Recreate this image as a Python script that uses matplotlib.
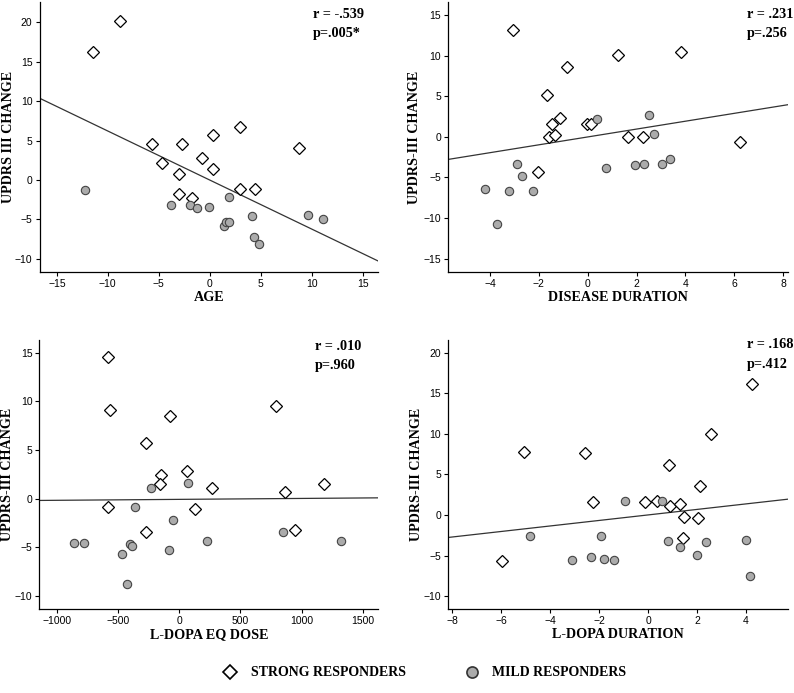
import numpy as np
import matplotlib
matplotlib.use('Agg')
import matplotlib.pyplot as plt
from matplotlib.lines import Line2D

# ---- data (strong = diamonds, mild = grey circles) ----
age_strong_x = [-8.8, -11.5, -5.7, -2.7, -4.7, -0.8, 0.3, 0.3, -3.0, -3.0, -1.7, 3.0, 3.0, 4.4, 8.8]
age_strong_y = [20.2, 16.2, 4.5, 4.5, 2.1, 2.8, 5.7, 1.4, 0.8, -1.8, -2.3, 6.7, -1.1, -1.1, 4.0]
age_mild_x = [-12.2, -3.8, -1.9, -1.3, -0.1, 1.9, 1.4, 1.6, 1.9, 4.1, 4.3, 4.8, 9.6, 11.1]
age_mild_y = [-1.3, -3.2, -3.2, -3.6, -3.4, -2.2, -5.8, -5.3, -5.3, -4.6, -7.2, -8.1, -4.5, -5.0]

dd_strong_x = [-3.05, 1.26, 3.83, -0.86, -1.68, -1.13, -1.46, -1.6, -1.35, -0.03, 0.15, 1.63, 2.28, -2.04, 6.23]
dd_strong_y = [13.2, 10.1, 10.4, 8.6, 5.1, 2.3, 1.6, 0.0, 0.25, 1.6, 1.6, 0.0, 0.0, -4.3, -0.7]
dd_mild_x = [-4.21, -3.73, -3.21, -2.9, -2.69, -2.25, 0.38, 0.75, 1.93, 2.3, 2.51, 2.7, 3.03, 3.36]
dd_mild_y = [-6.45, -10.7, -6.7, -3.4, -4.8, -6.7, 2.2, -3.8, -3.45, -3.4, 2.7, 0.4, -3.4, -2.7]

dose_strong_x = [-583, -564, -74, -270, 790, -147, -158, 65, 267, 1182, 861, -580, 131, -272, 945]
dose_strong_y = [14.6, 9.1, 8.5, 5.7, 9.5, 2.4, 1.5, 2.8, 1.1, 1.5, 0.7, -0.9, -1.1, -3.4, -3.2]
dose_mild_x = [-861, -779, -463, -403, -384, -422, -362, -229, -54, -79, 71, 231, 852, 1326]
dose_mild_y = [-4.55, -4.55, -5.7, -4.65, -4.9, -8.8, -0.9, 1.1, -2.15, -5.3, 1.6, -4.3, -3.4, -4.3]

ldd_strong_x = [4.23, 2.59, -5.09, -2.59, 0.87, 2.14, -2.24, -0.14, 0.37, 0.9, 1.31, 1.45, 2.06, 1.42, -5.99]
ldd_strong_y = [16.2, 9.95, 7.8, 7.7, 6.2, 3.6, 1.6, 1.6, 1.7, 1.1, 1.4, -0.3, -0.4, -2.8, -5.7]
ldd_mild_x = [-4.81, -3.1, -2.32, -1.91, -1.81, -1.38, -0.95, 0.56, 0.82, 1.3, 1.99, 2.36, 4.01, 4.16]
ldd_mild_y = [-2.55, -5.55, -5.15, -2.6, -5.45, -5.55, 1.7, 1.7, -3.15, -3.95, -4.9, -3.35, -3.05, -7.5]

x_labels = ['AGE', 'DISEASE DURATION', 'L-DOPA EQ DOSE', 'L-DOPA DURATION']
y_labels = ['UPDRS III CHANGE', 'UPDRS-III CHANGE', 'UPDRS-III CHANGE', 'UPDRS-III CHANGE']
r_text = ['r = -.539', 'r = .231', 'r = .010', 'r = .168']
p_text = ['p=.005*', 'p=.256', 'p=.960', 'p=.412']

W, H = 794, 693
serif = 'Liberation Serif'
sans = 'Liberation Sans'

fig = plt.figure(figsize=(W / 100, H / 100), dpi=100)

# axes boxes in pixels: left, top, right, bottom
boxes = [(39.5, 2, 378, 272), (448, 2, 788, 272), (39.3, 340, 378.3, 609.3), (448, 340, 788, 609.3)]
# where the axis titles sit (pixel x of y-label centre, pixel y of x-label centre)
ylab_x = [9, 415, 8, 416]
xlab_y = [298, 298, 635, 634]

panels = [
    (age_strong_x, age_strong_y, age_mild_x, age_mild_y,
     (-16.7, 16.5), (-11.7, 22.6), np.arange(-15, 16, 5), np.arange(-10, 21, 5)),
    (dd_strong_x, dd_strong_y, dd_mild_x, dd_mild_y,
     (-5.72, 8.2), (-16.65, 16.6), np.arange(-4, 9, 2), np.arange(-15, 16, 5)),
    (dose_strong_x, dose_strong_y, dose_mild_x, dose_mild_y,
     (-1142, 1627), (-11.36, 16.3), np.arange(-1000, 1501, 500), np.arange(-10, 16, 5)),
    (ldd_strong_x, ldd_strong_y, ldd_mild_x, ldd_mild_y,
     (-8.18, 5.72), (-11.64, 21.6), np.arange(-8, 5, 2), np.arange(-10, 21, 5)),
]

for i, (sx, sy, mx, my, xlim, ylim, xt, yt) in enumerate(panels):
    l, t, r, b = boxes[i]
    ax = fig.add_axes([l / W, 1 - b / H, (r - l) / W, (b - t) / H])

    # fit line over all subjects
    allx = np.array(sx + mx, dtype=float)
    ally = np.array(sy + my, dtype=float)
    slope, icpt = np.polyfit(allx, ally, 1)
    xs = np.array(xlim)
    ax.plot(xs, icpt + slope * xs, color='#333333', lw=0.9, zorder=1)

    ax.plot(sx, sy, linestyle='none', marker='D', markersize=6, markerfacecolor='white',
            markeredgecolor='black', markeredgewidth=0.9, zorder=3)
    ax.plot(mx, my, linestyle='none', marker='o', markersize=6, markerfacecolor='#ababab',
            markeredgecolor='#444444', markeredgewidth=0.8, zorder=3)

    ax.set_xlim(xlim)
    ax.set_ylim(ylim)
    ax.set_xticks(xt)
    ax.set_yticks(yt)
    ax.spines['top'].set_visible(False)
    ax.spines['right'].set_visible(False)
    for s in ['left', 'bottom']:
        ax.spines[s].set_linewidth(0.9)
    ax.tick_params(length=3, width=0.8, labelsize=7.5, pad=2)
    for lab in ax.get_xticklabels() + ax.get_yticklabels():
        lab.set_fontfamily(sans)
    ax.set_xlabel(x_labels[i], fontfamily=serif, fontweight='bold', fontsize=10.2, va='center')
    ax.set_ylabel(y_labels[i], fontfamily=serif, fontweight='bold', fontsize=10.2, va='center')
    ax.xaxis.set_label_coords(0.5, (b - xlab_y[i]) / (b - t))
    ax.yaxis.set_label_coords((ylab_x[i] - l) / (r - l), 0.5)

# correlation annotations (pixel positions of the text starts)
ann_pos = [(313, 15), (747, 15), (315, 346), (747, 345)]
for (x, y), rt, pt in zip(ann_pos, r_text, p_text):
    fig.text(x / W, 1 - y / H, rt, fontfamily=serif, fontweight='bold', fontsize=10.3,
             ha='left', va='center')
    fig.text(x / W, 1 - (y + 19) / H, pt, fontfamily=serif, fontweight='bold', fontsize=10.3,
             ha='left', va='center')

handles = [
    Line2D([], [], linestyle='none', marker='D', markersize=7, markerfacecolor='white',
           markeredgecolor='black', markeredgewidth=1.2),
    Line2D([], [], linestyle='none', marker='o', markersize=8, markerfacecolor='#ababab',
           markeredgecolor='#333333', markeredgewidth=1.2),
]
fig.legend(handles, ['STRONG RESPONDERS', 'MILD RESPONDERS'], loc='center',
           bbox_to_anchor=(425 / W, 1 - 673 / H), ncol=2, frameon=False,
           prop={'family': serif, 'weight': 'bold', 'size': 10},
           handletextpad=1.0, columnspacing=4.2, handlelength=1.0)

fig.savefig('out.png', dpi=100)
